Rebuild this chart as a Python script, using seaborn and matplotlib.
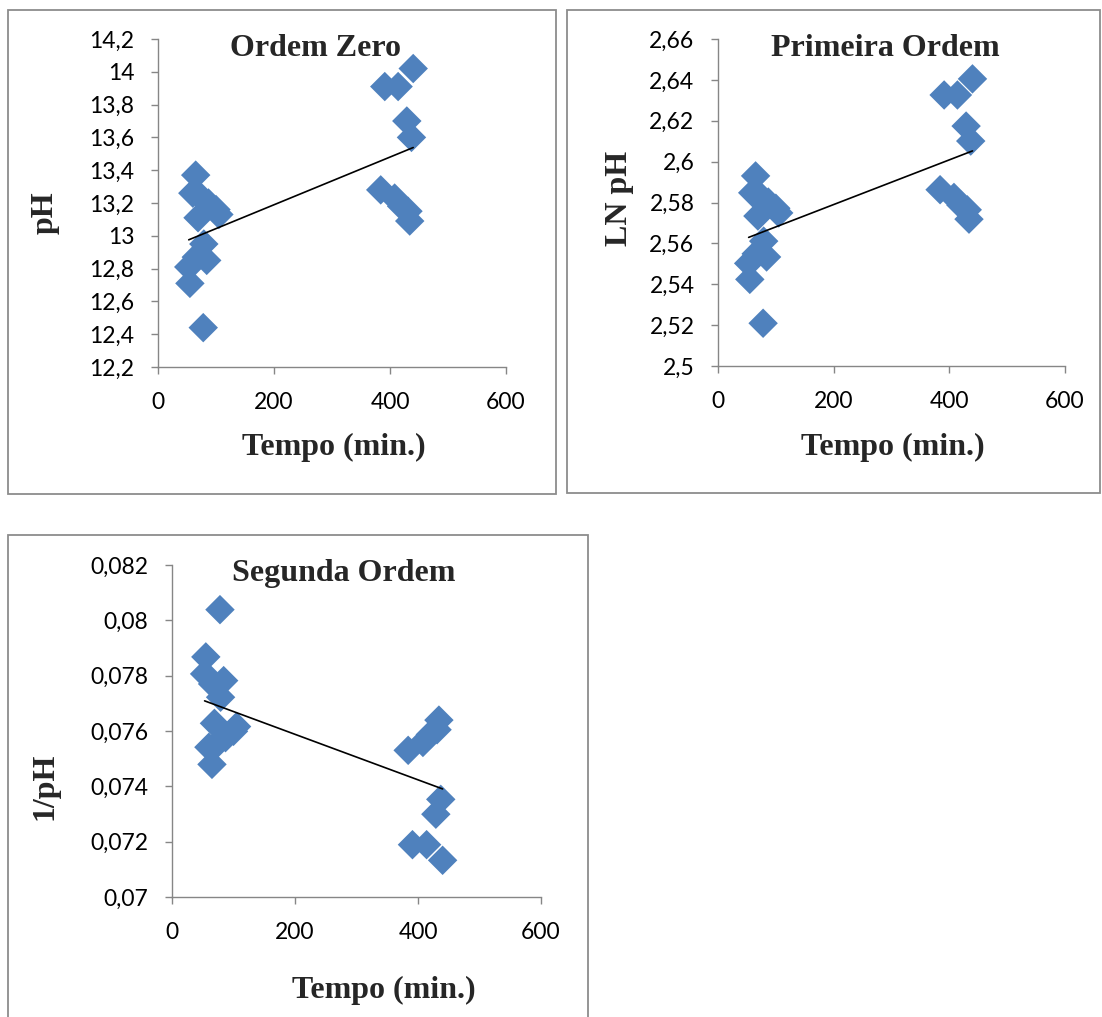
import numpy as np
import matplotlib
matplotlib.use("Agg")
import matplotlib.pyplot as plt
from matplotlib.patches import Rectangle
from matplotlib.ticker import FixedLocator, FuncFormatter
import seaborn as sns

tempo = [53, 55, 60, 65, 66, 69, 73, 78, 79, 84, 87, 100, 105,
         384, 391, 408, 414, 420, 429, 431, 434, 437, 440]
ph = [12.81, 12.71, 13.26, 13.37, 12.87, 13.11, 13.24, 12.44, 12.95, 12.85,
      13.20, 13.16, 13.13,
      13.28, 13.91, 13.23, 13.91, 13.18, 13.70, 13.15, 13.09, 13.60, 14.02]

# the other two panels plot LN pH and 1/pH of the same readings
ln_ph = np.log(ph)
inv_ph = 1 / np.array(ph)

titles = ["Ordem Zero", "Primeira Ordem", "Segunda Ordem"]
ylabels = ["pH", "LN pH", "1/pH"]
xlabel = "Tempo (min.)"
xticks = [0, 200, 400, 600]
yticks_zero = [12.2, 12.4, 12.6, 12.8, 13.0, 13.2, 13.4, 13.6, 13.8, 14.0, 14.2]
yticks_first = [2.5, 2.52, 2.54, 2.56, 2.58, 2.6, 2.62, 2.64, 2.66]
yticks_second = [0.07, 0.072, 0.074, 0.076, 0.078, 0.08, 0.082]

W, H = 1102, 1017
BLUE = "#4F81BD"
GRAY = "#868686"

sns.set_theme(style="white")
plt.rcParams["font.family"] = ["Lato", "DejaVu Sans"]

fig = plt.figure(figsize=(W / 100, H / 100), dpi=100)


def comma(v, pos):
    return f"{v:g}".replace(".", ",")


def px_axes(l, t, r, b):
    return fig.add_axes([l / W, 1 - b / H, (r - l) / W, (b - t) / H])


def chart_box(l, t, r, b):
    fig.add_artist(Rectangle((l / W, 1 - b / H), (r - l) / W, (b - t) / H,
                             transform=fig.transFigure, fill=False,
                             edgecolor="#8c8c8c", lw=1.3))


def fig_text(x, y, s, rot=0):
    fig.text(x / W, 1 - y / H, s, ha="center", va="center", rotation=rot,
             family="Liberation Serif", weight="bold", fontsize=23)


panels = [
    dict(y=ph, yt=yticks_zero, ax=(158, 39, 506, 367), box=(8, 10, 556, 494),
         title=(315, 48), xl=(334, 447), yl=(45, 213)),
    dict(y=ln_ph, yt=yticks_first, ax=(718, 39, 1065, 366), box=(567, 10, 1100, 493),
         title=(885, 48), xl=(893, 447), yl=(619, 198)),
    dict(y=inv_ph, yt=yticks_second, ax=(172, 565, 541, 897), box=(8, 535, 588, 1030),
         title=(344, 573), xl=(384, 990), yl=(45, 786)),
]

for i, p in enumerate(panels):
    chart_box(*p["box"])
    ax = px_axes(*p["ax"])
    sns.regplot(x=np.array(tempo), y=np.array(p["y"]), ax=ax, ci=None, marker="D",
                scatter_kws=dict(s=225, color=BLUE, edgecolors="none", alpha=1),
                line_kws=dict(color="black", lw=1.2))
    ax.set_xlim(0, 600)
    ax.set_ylim(p["yt"][0], p["yt"][-1])
    ax.xaxis.set_major_locator(FixedLocator(xticks))
    ax.yaxis.set_major_locator(FixedLocator(p["yt"]))
    ax.xaxis.set_major_formatter(FuncFormatter(comma))
    ax.yaxis.set_major_formatter(FuncFormatter(comma))
    ax.set_xlabel("")
    ax.set_ylabel("")
    for side in ["top", "right"]:
        ax.spines[side].set_visible(False)
    for side in ["left", "bottom"]:
        ax.spines[side].set_color(GRAY)
        ax.spines[side].set_linewidth(1.0)
    ax.tick_params(axis="both", which="major", direction="out", length=5,
                   width=1.0, color=GRAY, labelsize=16.5, labelcolor="black")
    ax.tick_params(axis="x", bottom=True, pad=13)
    ax.tick_params(axis="y", left=True, pad=12)
    fig_text(*p["title"], titles[i])
    fig_text(*p["xl"], xlabel)
    fig_text(*p["yl"], ylabels[i], rot=90)

fig.savefig("out.png", dpi=100, facecolor="white")
